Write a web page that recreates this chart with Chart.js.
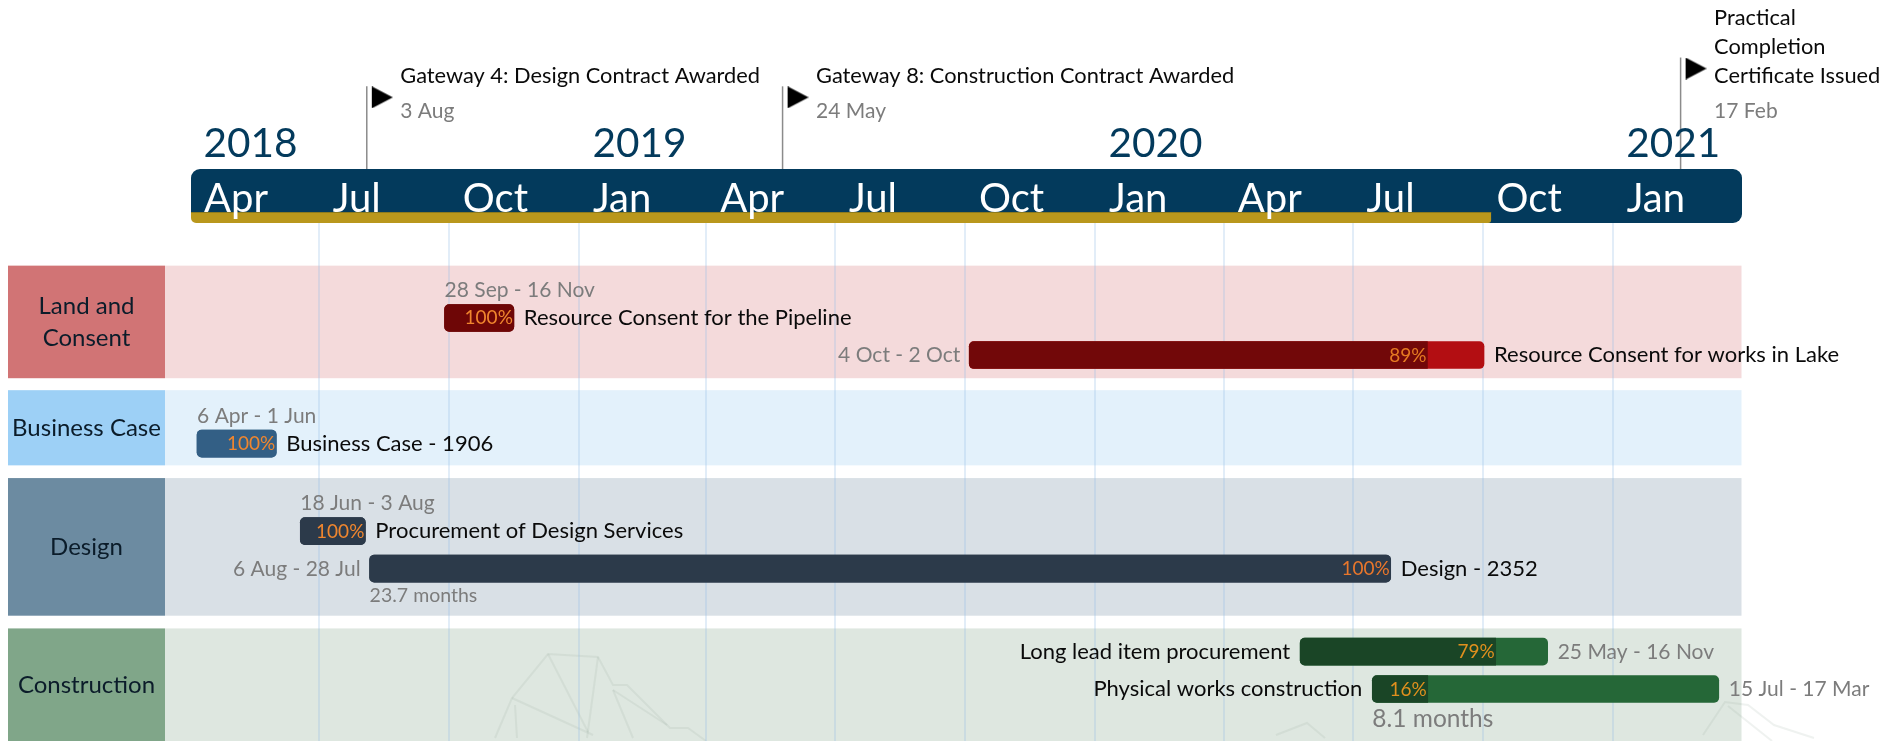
<!DOCTYPE html>
<html>
<head>
<meta charset="utf-8">
<style>html,body{margin:0;padding:0;background:#fff}canvas{display:block}</style>
<script src="https://cdn.jsdelivr.net/npm/chart.js@4"></script>
</head>
<body>
<canvas id="c" width="1898" height="741"></canvas>
<script>
// ---------- data ----------
const axisStart = '2018-04-01';
const axisEnd = '2021-04-01';
const quarterDates = ['2018-04-01','2018-07-01','2018-10-01','2019-01-01','2019-04-01','2019-07-01','2019-10-01','2020-01-01','2020-04-01','2020-07-01','2020-10-01','2021-01-01'];
const quarterLabels = ['Apr','Jul','Oct','Jan','Apr','Jul','Oct','Jan','Apr','Jul','Oct','Jan'];
const yearDates = ['2018-04-01','2019-01-01','2020-01-01','2021-01-01'];
const yearLabels = ['2018','2019','2020','2021'];
const todayDate = '2020-10-07';

const groupNames = [['Land and','Consent'],['Business Case'],['Design'],['Construction']];
const groupLaneTop = [1.14,4.47,6.82,10.84];
const groupLaneBottom = [4.15,6.48,10.5,13.86];

const taskNames = ['Resource Consent for the Pipeline','Resource Consent for works in Lake','Business Case - 1906','Procurement of Design Services','Design - 2352','Long lead item procurement','Physical works construction'];
const taskStart = ['2018-09-28','2019-10-04','2018-04-06','2018-06-18','2018-08-06','2020-05-25','2020-07-15'];
const taskEnd = ['2018-11-16','2020-10-02','2018-06-01','2018-08-03','2020-07-28','2020-11-16','2021-03-17'];
const taskPercent = [100,89,100,100,100,79,16];
const taskLane = [2.54,3.53,5.90,8.24,9.24,11.46,12.46];
const taskDates = ['28 Sep - 16 Nov','4 Oct - 2 Oct','6 Apr - 1 Jun','18 Jun - 3 Aug','6 Aug - 28 Jul','25 May - 16 Nov','15 Jul - 17 Mar'];
const taskDuration = ['','','','','23.7 months','','8.1 months'];
const nameSide = ['right','right','right','right','right','left','left'];
const dateSide = ['above','left','above','above','left','right','right'];

const milestoneNames = [['Gateway 4: Design Contract Awarded'],['Gateway 8: Construction Contract Awarded'],['Practical','Completion','Certificate Issued']];
const milestoneDates = ['2018-08-03','2019-05-24','2021-02-17'];
const milestoneLabels = ['3 Aug','24 May','17 Feb'];
const milestoneLane = [-3.36,-3.36,-4.13];

// ---------- styles ----------
const FONT = 'Lato';
const groupHeadColors = ['#d17475','#9dd0f6','#6c8ba1','#80a689'];
const groupBandColors = ['#f4dadb','#e3f1fb','#d9e0e6','#dee7e0'];
const taskBaseColors = ['#6e0606','#b30e12','#335f85','#2c3a4a','#2c3a4a','#256737','#256737'];
const taskDoneColors = ['#6e0606','#720809','#335f85','#2c3a4a','#2c3a4a','#1a4526','#1a4526'];
const pctColors = ['#f0862e','#e57a22','#f0862e','#f0862e','#e8762b','#e0901e','#e0901e'];
const NAVY = '#033a5c', GREY = '#7c7c7c', INK = '#0a0a0a';

const day = s => Date.parse(s + 'T00:00:00Z') / 86400000;

function flagImage(){
  const c = document.createElement('canvas');
  c.width = 52; c.height = 22;
  const g = c.getContext('2d');
  g.fillStyle = '#000';
  g.beginPath(); g.moveTo(31,0); g.lineTo(52,11); g.lineTo(31,22); g.closePath(); g.fill();
  return c;
}
const flag = flagImage();
function text(ctx, s, x, y, font, color, align){
  ctx.font = font; ctx.fillStyle = color; ctx.textAlign = align || 'left'; ctx.textBaseline = 'alphabetic';
  ctx.fillText(s, x, y);
}
function rrect(ctx, x, y, w, h, r){
  ctx.beginPath(); ctx.roundRect(x, y, w, h, r); ctx.fill();
}
const watermark = [
  [[495,738],[512,698],[548,654],[598,657],[613,685],[627,685],[670,728],[688,728],[706,741]],
  [[548,654],[588,732]],[[598,657],[587,738]],[[512,698],[593,735]],[[613,690],[667,725]],[[613,690],[633,738]],[[515,705],[517,738]],
  [[1276,735],[1307,723],[1325,738]],
  [[1703,735],[1725,702],[1748,705],[1774,725],[1814,738]],[[1728,706],[1772,741]]
];

const ganttDecor = {
  id:'ganttDecor',
  beforeDraw(chart){
    const {ctx, scales:{x,y}} = chart;
    const L = x.getPixelForValue(day(axisStart)), R = x.getPixelForValue(day(axisEnd));
    ctx.save();
    // group bands + header cells
    groupNames.forEach((n,i)=>{
      const t = y.getPixelForValue(groupLaneTop[i]), b = y.getPixelForValue(groupLaneBottom[i]);
      ctx.fillStyle = groupBandColors[i]; ctx.fillRect(165, t, R-165+1.5, b-t);
      ctx.fillStyle = groupHeadColors[i]; ctx.fillRect(8, t, 157, b-t);
    });
    // watermark
    ctx.strokeStyle = 'rgba(150,170,155,0.15)'; ctx.lineWidth = 2;
    watermark.forEach(p=>{ ctx.beginPath(); p.forEach((q,k)=>k?ctx.lineTo(q[0],q[1]):ctx.moveTo(q[0],q[1])); ctx.stroke(); });
    // timeline ribbon
    ctx.fillStyle = NAVY; rrect(ctx, L+1, 169, R-L+1, 54, 9);
    const g = x.getPixelForValue(day(todayDate));
    ctx.fillStyle = '#b9971c'; rrect(ctx, L+1, 212, g-L-1, 11, [0,0,3,5]);
    ctx.fillStyle = '#8c7a1e'; ctx.fillRect(L+1, 212, g-L-1, 1);
    // milestone poles
    ctx.strokeStyle = '#8b8b8b'; ctx.lineWidth = 1.5;
    milestoneDates.forEach((d,i)=>{
      const px = x.getPixelForValue(day(d)+1);
      const top = y.getPixelForValue(milestoneLane[i]) - 11;
      ctx.beginPath(); ctx.moveTo(px, top); ctx.lineTo(px, 169); ctx.stroke();
    });
    // years
    yearLabels.forEach((s,i)=>{
      text(ctx, s, x.getPixelForValue(day(yearDates[i]))+13.5, 157, '40.5px '+FONT, NAVY);
    });
    ctx.restore();
  },
  afterDraw(chart){
    const {ctx, scales:{x,y}} = chart;
    ctx.save();
    // milestone flags sit above the plot area, so paint them from the dataset's own elements
    chart.getDatasetMeta(2).data.forEach(el=>ctx.drawImage(flag, el.x-26, el.y-11));
    // group header labels
    groupNames.forEach((n,i)=>{
      const t = y.getPixelForValue(groupLaneTop[i]), b = y.getPixelForValue(groupLaneBottom[i]);
      const mid = (t+b)/2;
      n.forEach((line,k)=>{
        const yy = mid + 8 + (k-(n.length-1)/2)*32;
        text(ctx, line, 86.5, yy, '24px '+FONT, '#0b1c2a', 'center');
      });
    });
    // task labels
    taskNames.forEach((name,i)=>{
      const a = x.getPixelForValue(day(taskStart[i]));
      const b = x.getPixelForValue(day(taskEnd[i]));
      const c = y.getPixelForValue(taskLane[i]);
      if(nameSide[i]==='right') text(ctx, name, b+10, c+7, '22px '+FONT, INK);
      else text(ctx, name, a-10, c+7, '22px '+FONT, INK, 'right');
      if(dateSide[i]==='above') text(ctx, taskDates[i], a, c-21, '21px '+FONT, GREY);
      else if(dateSide[i]==='left') text(ctx, taskDates[i], a-9, c+7, '21px '+FONT, GREY, 'right');
      else text(ctx, taskDates[i], b+10, c+7, '21px '+FONT, GREY);
      const pe = a + (b-a)*taskPercent[i]/100;
      text(ctx, taskPercent[i]+'%', pe-1, c+6.5, '19px '+FONT, pctColors[i], 'right');
      if(taskDuration[i]){
        const big = i===6;
        text(ctx, taskDuration[i], a, c+(big?38:33), (big?'24.5px ':'19.5px ')+FONT, GREY);
      }
    });
    // milestone labels
    milestoneNames.forEach((lines,i)=>{
      const px = x.getPixelForValue(day(milestoneDates[i])+1);
      lines.forEach((s,k)=>{
        text(ctx, s, px+33.5, 83-(lines.length-1-k)*29, '21.8px '+FONT, INK);
      });
      text(ctx, milestoneLabels[i], px+33.5, 118, '21px '+FONT, GREY);
    });
    ctx.restore();
  }
};

new Chart(document.getElementById('c'), {
  type:'bar',
  plugins:[ganttDecor],
  data:{
    datasets:[
      {
        label:'Complete',
        data:taskNames.map((n,i)=>({x:[day(taskStart[i]), day(taskStart[i])+(day(taskEnd[i])-day(taskStart[i]))*taskPercent[i]/100], y:taskLane[i]})),
        backgroundColor:taskDoneColors,
        barThickness:27, grouped:false, borderSkipped:false, order:1,
        borderRadius:c=>{const f=taskPercent[c.dataIndex]>=100?5:0;return {topLeft:5,bottomLeft:5,topRight:f,bottomRight:f};}
      },
      {
        label:'Duration',
        data:taskNames.map((n,i)=>({x:[day(taskStart[i]), day(taskEnd[i])], y:taskLane[i]})),
        backgroundColor:taskBaseColors,
        barThickness:27, grouped:false, borderSkipped:false, borderRadius:5, order:2
      },
      {
        type:'scatter',
        label:'Milestones',
        data:milestoneDates.map((d,i)=>({x:day(d)+1, y:milestoneLane[i]})),
        pointRadius:0, clip:false, order:0, showLine:false
      }
    ]
  },
  options:{
    indexAxis:'y',
    responsive:false,
    animation:false,
    layout:{padding:{left:190,right:158,top:169,bottom:0}},
    plugins:{legend:{display:false},tooltip:{enabled:false}},
    scales:{
      x:{
        type:'linear', position:'top',
        min:day(axisStart), max:day(axisEnd),
        afterBuildTicks(s){ s.ticks = quarterDates.map(d=>({value:day(d)})); },
        afterFit(s){ s.height = 54; s.paddingBottom = 0; },
        border:{display:false},
        grid:{drawTicks:false, lineWidth:2, color:c=>c.index===0?'transparent':'rgba(150,190,230,0.28)'},
        ticks:{
          z:2, autoSkip:false, maxRotation:0, minRotation:0, align:'start', labelOffset:14, padding:0,
          color:'#fff', font:{family:FONT,size:40},
          callback:(v,i)=>quarterLabels[i]
        }
      },
      y:{type:'linear', display:false, reverse:true, offset:false, min:0, max:518/37.4}
    }
  }
});
</script>
</body>
</html>
